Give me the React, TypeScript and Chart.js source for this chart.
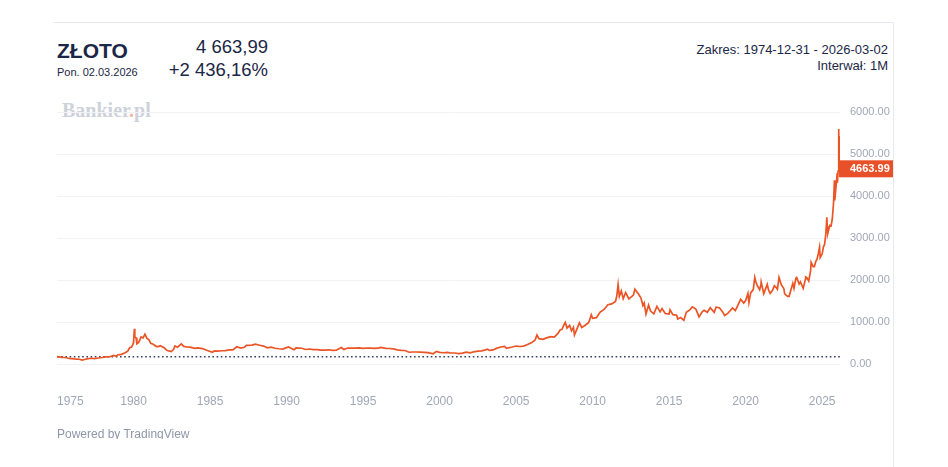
import React, { useEffect, useRef } from "react";
import { Chart, registerables } from "chart.js";

Chart.register(...registerables);

const dates: string[] = [
  "1974-12-31", "1975-02-15", "1975-04-15", "1975-06-15", "1975-08-15", "1975-10-15", "1975-12-15",
  "1976-02-15", "1976-04-15", "1976-06-15", "1976-08-25", "1976-10-15", "1976-12-15",
  "1977-03-15", "1977-06-15", "1977-09-15", "1977-12-15",
  "1978-03-15", "1978-06-15", "1978-09-15", "1978-11-15", "1978-12-15",
  "1979-03-15", "1979-06-15", "1979-08-15", "1979-09-30", "1979-11-15", "1979-12-31",
  "1980-01-21", "1980-01-31", "1980-02-29", "1980-03-20", "1980-04-30", "1980-06-30", "1980-08-15", "1980-09-30", "1980-11-15", "1980-12-31",
  "1981-02-15", "1981-04-15", "1981-06-30", "1981-08-15", "1981-09-30", "1981-12-31",
  "1982-03-15", "1982-06-21", "1982-08-15", "1982-09-15", "1982-11-15",
  "1983-02-15", "1983-04-15", "1983-06-30", "1983-09-15", "1983-12-31",
  "1984-03-15", "1984-06-30", "1984-09-30", "1984-12-31",
  "1985-02-25", "1985-04-15", "1985-06-30", "1985-09-30", "1985-12-31",
  "1986-03-31", "1986-06-30", "1986-09-30", "1986-12-31",
  "1987-03-31", "1987-05-15", "1987-09-30", "1987-12-15",
  "1988-03-31", "1988-06-30", "1988-09-30", "1988-12-31",
  "1989-03-31", "1989-06-30", "1989-09-30", "1989-12-31",
  "1990-02-15", "1990-06-30", "1990-08-15", "1990-12-31",
  "1991-03-31", "1991-06-30", "1991-09-30", "1991-12-31",
  "1992-03-31", "1992-06-30", "1992-09-30", "1992-12-31",
  "1993-03-31", "1993-07-31", "1993-09-30", "1993-12-31",
  "1994-03-31", "1994-06-30", "1994-09-30", "1994-12-31",
  "1995-03-31", "1995-06-30", "1995-09-30", "1995-12-31",
  "1996-02-15", "1996-06-30", "1996-09-30", "1996-12-31",
  "1997-03-31", "1997-06-30", "1997-09-30", "1997-12-31",
  "1998-03-31", "1998-06-30", "1998-09-30", "1998-12-31",
  "1999-03-31", "1999-07-31", "1999-10-15", "1999-12-31",
  "2000-03-31", "2000-06-30", "2000-09-30", "2000-12-31",
  "2001-03-31", "2001-06-30", "2001-09-30", "2001-12-31",
  "2002-03-31", "2002-06-30", "2002-09-30", "2002-12-31",
  "2003-02-15", "2003-03-31", "2003-06-30", "2003-09-30", "2003-12-31",
  "2004-03-31", "2004-05-15", "2004-09-30", "2004-12-31",
  "2005-03-31", "2005-06-30", "2005-09-30", "2005-12-31",
  "2006-03-31", "2006-05-12", "2006-06-30", "2006-09-30", "2006-12-31",
  "2007-03-31", "2007-06-30", "2007-09-30", "2007-11-15", "2007-12-31",
  "2008-02-29", "2008-03-17", "2008-04-30", "2008-06-30", "2008-08-15", "2008-09-30", "2008-10-24", "2008-12-31",
  "2009-02-20", "2009-04-15", "2009-06-30", "2009-09-30", "2009-11-30", "2009-12-31",
  "2010-03-31", "2010-06-30", "2010-09-30", "2010-12-31",
  "2011-03-31", "2011-06-30", "2011-07-31", "2011-08-31", "2011-09-30", "2011-11-15", "2011-12-31",
  "2012-02-28", "2012-05-15", "2012-08-31", "2012-10-05", "2012-12-31",
  "2013-02-28", "2013-04-15", "2013-05-15", "2013-06-28", "2013-08-28", "2013-10-15", "2013-12-31",
  "2014-03-15", "2014-05-30", "2014-07-15", "2014-09-30", "2014-12-31",
  "2015-01-22", "2015-03-31", "2015-06-30", "2015-07-24", "2015-09-30", "2015-12-17",
  "2016-02-15", "2016-04-30", "2016-07-06", "2016-09-30", "2016-12-15",
  "2017-02-28", "2017-04-15", "2017-06-30", "2017-09-08", "2017-12-12",
  "2018-01-25", "2018-04-15", "2018-06-30", "2018-08-16", "2018-10-31", "2018-12-31",
  "2019-02-20", "2019-04-30", "2019-06-30", "2019-09-04", "2019-11-15", "2019-12-31",
  "2020-02-24", "2020-03-19", "2020-04-30", "2020-06-30", "2020-08-06", "2020-08-31", "2020-09-30", "2020-11-30", "2020-12-31",
  "2021-01-06", "2021-03-08", "2021-05-31", "2021-06-30", "2021-08-09", "2021-09-30", "2021-11-16", "2021-12-31",
  "2022-01-28", "2022-03-08", "2022-04-30", "2022-06-30", "2022-07-21", "2022-09-28", "2022-11-03", "2022-12-31",
  "2023-01-31", "2023-02-28", "2023-04-13", "2023-05-04", "2023-06-30", "2023-07-31", "2023-10-05", "2023-11-30", "2023-12-04", "2023-12-31",
  "2024-02-14", "2024-03-31", "2024-04-12", "2024-05-31", "2024-06-28", "2024-07-31", "2024-08-30", "2024-09-30", "2024-10-30", "2024-11-14", "2024-12-31",
  "2025-01-31", "2025-02-28", "2025-03-31", "2025-04-22", "2025-04-30", "2025-05-15", "2025-06-30", "2025-07-31", "2025-08-29", "2025-09-30", "2025-10-20", "2025-10-28", "2025-11-28", "2025-12-26", "2025-12-31",
  "2026-01-15", "2026-01-29", "2026-02-02", "2026-02-20", "2026-02-27", "2026-03-02",
];

const prices: number[] = [
  184, 180, 168, 166, 160, 142, 140,
  131, 128, 124, 104, 117, 134,
  148, 141, 154, 165,
  181, 183, 217, 196, 226,
  240, 277, 315, 397, 415, 512,
  850, 653, 637, 494, 518, 653, 630, 720, 620, 590,
  500, 480, 426, 425, 445, 397,
  330, 305, 360, 440, 410,
  490, 430, 415, 410, 382,
  395, 378, 342, 309,
  290, 325, 317, 326, 327,
  345, 346, 420, 391,
  408, 455, 460, 484,
  457, 437, 397, 410,
  385, 373, 367, 401,
  415, 352, 395, 386,
  356, 367, 354, 353,
  341, 343, 349, 333,
  337, 401, 355, 391,
  389, 388, 394, 383,
  391, 387, 384, 387,
  404, 382, 379, 369,
  348, 334, 332, 290,
  296, 296, 293, 288,
  280, 255, 310, 288,
  278, 288, 273, 272,
  258, 270, 293, 278,
  301, 318, 323, 347,
  365, 334, 346, 388, 416,
  427, 385, 415, 438,
  427, 437, 473, 513,
  582, 700, 613, 599, 632,
  663, 650, 743, 820, 834,
  972, 1000, 865, 928, 800, 880, 700, 865,
  990, 880, 927, 1000, 1180, 1096,
  1113, 1244, 1307, 1421,
  1439, 1500, 1628, 1900, 1620, 1750, 1565,
  1710, 1560, 1648, 1790, 1675,
  1578, 1400, 1460, 1200, 1410, 1270, 1202,
  1380, 1250, 1330, 1211, 1199,
  1300, 1183, 1172, 1080, 1115, 1050,
  1240, 1290, 1370, 1315, 1130,
  1250, 1290, 1242, 1350, 1240,
  1360, 1350, 1250, 1165, 1215, 1282,
  1345, 1280, 1409, 1550, 1460, 1517,
  1690, 1470, 1700, 1780, 2070, 1968, 1886, 1776, 1895,
  1960, 1680, 1905, 1770, 1690, 1757, 1870, 1829,
  1790, 2070, 1897, 1807, 1680, 1620, 1620, 1824,
  1928, 1810, 2050, 2070, 1912, 1965, 1810, 2036, 2080, 2063,
  1985, 2230, 2430, 2327, 2327, 2447, 2503, 2634, 2790, 2540, 2625,
  2798, 2858, 3124, 3500, 3289, 3120, 3303, 3290, 3447, 3858, 4380, 3900, 4240, 4550, 4320,
  4600, 5600, 4700, 5430, 4450, 4663.99,
];

const yTicks: number[] = [0, 1000, 2000, 3000, 4000, 5000, 6000];
const xTickYears: number[] = [1975, 1980, 1985, 1990, 1995, 2000, 2005, 2010, 2015, 2020, 2025];
const lastPrice = 4663.99;
const basePrice = 183.9;

function toYear(d: string): number {
  const [y, m, day] = d.split("-").map(Number);
  const t = Date.UTC(y, m - 1, day);
  const start = Date.UTC(y, 0, 1);
  const end = Date.UTC(y + 1, 0, 1);
  return y + (t - start) / (end - start);
}

const NAVY = "#1B2746";
const AXIS_TEXT = "#A0A7B6";
const LINE = "#EB5424";

export default function App() {
  const ref = useRef<HTMLCanvasElement | null>(null);

  useEffect(() => {
    document.body.style.margin = "0";
    const canvas = ref.current;
    if (!canvas) return;
    const points = dates.map((d, i) => ({ x: toYear(d), y: prices[i] }));
    const xMin = toYear(dates[0]);
    const xMax = toYear(dates[dates.length - 1]);

    const overlay = {
      id: "overlay",
      beforeDatasetsDraw(chart: any) {
        const { ctx, chartArea, scales } = chart;
        const y = scales.y.getPixelForValue(basePrice);
        ctx.save();
        ctx.strokeStyle = "#34435F";
        ctx.lineWidth = 1.6;
        ctx.setLineDash([1.6, 2.6]);
        ctx.beginPath();
        ctx.moveTo(chartArea.left, y);
        ctx.lineTo(chartArea.right, y);
        ctx.stroke();
        ctx.restore();
      },
      afterDraw(chart: any) {
        const { ctx, chartArea, scales } = chart;
        ctx.save();
        ctx.font = '12px "Liberation Sans", Arial, sans-serif';
        ctx.fillStyle = AXIS_TEXT;
        ctx.textBaseline = "middle";
        ctx.textAlign = "center";
        xTickYears.forEach((yr) => {
          const label = String(yr);
          const w = ctx.measureText(label).width;
          let px = scales.x.getPixelForValue(yr);
          px = Math.max(px, chartArea.left + w / 2);
          ctx.fillText(label, px, chartArea.bottom + 15);
        });
        const py = scales.y.getPixelForValue(lastPrice);
        ctx.fillStyle = "#E8502A";
        ctx.fillRect(chartArea.right, py - 8, 53, 17);
        ctx.fillStyle = "#FFFFFF";
        ctx.font = 'bold 11px "Liberation Sans", Arial, sans-serif';
        ctx.textAlign = "left";
        ctx.fillText(lastPrice.toFixed(2), chartArea.right + 10, py + 0.5);
        ctx.restore();
      },
    };

    const chart = new Chart(canvas, {
      type: "line",
      data: {
        datasets: [
          {
            data: points,
            borderColor: LINE,
            borderWidth: 1.7,
            pointRadius: 0,
            tension: 0,
            fill: false,
          },
        ],
      },
      options: {
        animation: false,
        responsive: false,
        maintainAspectRatio: false,
        layout: { padding: { top: 6, bottom: 35, left: 0, right: 0 } },
        plugins: { legend: { display: false }, tooltip: { enabled: false } },
        scales: {
          x: {
            type: "linear",
            min: xMin,
            max: xMax,
            display: false,
          },
          y: {
            position: "right",
            min: -536,
            max: 6345,
            afterBuildTicks: (scale: any) => {
              scale.ticks = yTicks.map((v) => ({ value: v }));
            },
            afterFit: (scale: any) => {
              scale.width = 53;
            },
            border: { display: false },
            grid: { color: "#F0F2F6", drawTicks: false, lineWidth: 1 },
            ticks: {
              padding: 10,
              color: AXIS_TEXT,
              font: { family: '"Liberation Sans", Arial, sans-serif', size: 11 },
              callback: (v: any) => Number(v).toFixed(2),
            },
          },
        },
      },
      plugins: [overlay],
    });
    return () => chart.destroy();
  }, []);

  const font = '"Liberation Sans", Arial, Helvetica, sans-serif';
  const abs = (s: React.CSSProperties): React.CSSProperties => ({ position: "absolute", whiteSpace: "nowrap", lineHeight: 1, fontFamily: font, ...s });

  return (
    <div style={{ position: "fixed", left: 0, top: 0, width: 948, height: 467, background: "#fff", overflow: "hidden" }}>
      <div style={{ position: "absolute", left: 53, top: 22, width: 840, height: 1, background: "#E6E9EE" }} />
      <div style={{ position: "absolute", left: 893, top: 22, width: 1, height: 445, background: "#E6E9EE" }} />
      <div style={abs({ left: 57, top: 40, fontSize: 21, fontWeight: 700, color: NAVY })}>ZŁOTO</div>
      <div style={abs({ left: 57, top: 67, fontSize: 11, color: NAVY })}>Pon. 02.03.2026</div>
      <div style={abs({ right: 680, top: 38, fontSize: 18.5, color: NAVY, textAlign: "right" })}>4 663,99</div>
      <div style={abs({ right: 680, top: 61, fontSize: 18.5, color: NAVY, textAlign: "right" })}>+2 436,16%</div>
      <div style={abs({ right: 60, top: 43, fontSize: 13, color: NAVY, textAlign: "right" })}>Zakres: 1974-12-31 - 2026-03-02</div>
      <div style={abs({ right: 60, top: 59, fontSize: 13, color: NAVY, textAlign: "right" })}>Interwał: 1M</div>
      <div style={abs({ left: 62, top: 100, fontSize: 20, fontWeight: 700, color: "#CDD2DA", fontFamily: '"Liberation Serif", "Times New Roman", serif' })}>
        Bankier<span style={{ color: "#F3B9A3" }}>.</span>pl
      </div>
      <canvas ref={ref} width={836} height={341} style={{ position: "absolute", left: 57, top: 81, width: 836, height: 341 }} />
      <div style={{ position: "absolute", left: 57, top: 420, width: 200, height: 19, overflow: "hidden" }}>
        <div style={abs({ left: 0, top: 8, fontSize: 12, color: "#8E97A8" })}>Powered by TradingView</div>
      </div>
    </div>
  );
}
